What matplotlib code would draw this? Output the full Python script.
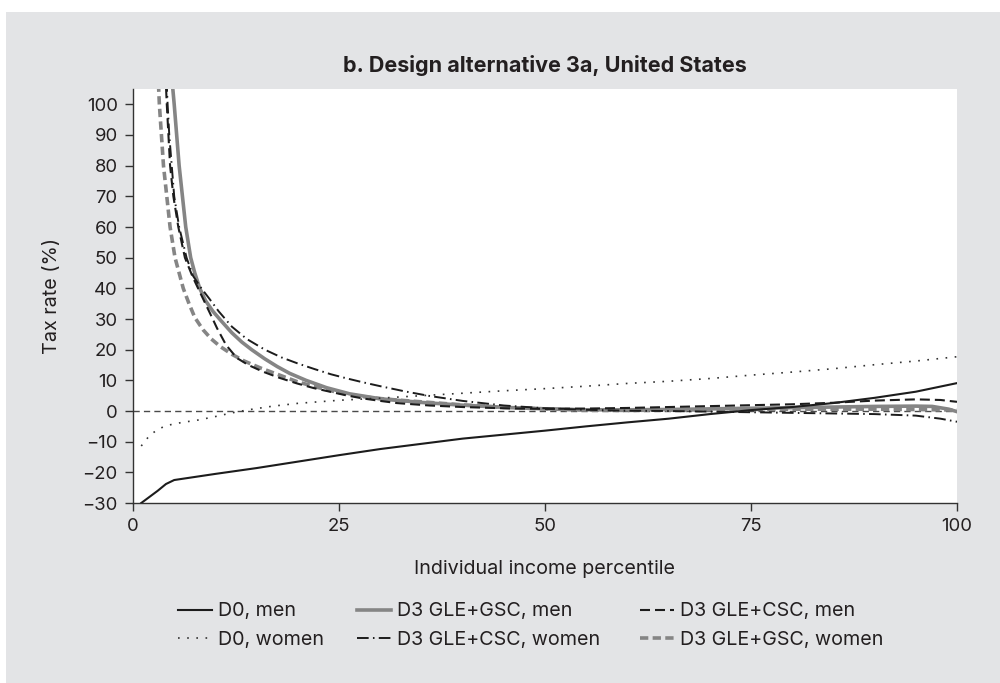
import matplotlib
matplotlib.use("Agg")
import matplotlib.pyplot as plt
from matplotlib.patches import Rectangle

plt.rcParams['font.family'] = ['Inter', 'DejaVu Sans']

# Individual income percentile vs. tax rate (%)
d0_men_x = [1, 2, 3, 4, 5, 6, 8, 10, 15, 20, 25, 30, 35, 40, 45, 50, 55, 60, 65, 70, 75, 80, 85, 90, 95, 100]
d0_men_y = [-30, -28, -26, -23.8, -22.5, -22.1, -21.3, -20.5, -18.6, -16.5, -14.4, -12.4, -10.7, -9.0,
            -7.7, -6.4, -5.0, -3.7, -2.5, -1.0, 0.3, 1.3, 2.6, 4.3, 6.3, 9.1]

d0_women_x = [1, 2, 3, 4, 5, 6, 8, 10, 12, 14, 17, 20, 25, 30, 35, 40, 45, 50, 55, 60, 65, 70, 75, 80, 85, 90, 95, 100]
d0_women_y = [-11.4, -8.0, -6.0, -4.8, -4.2, -3.7, -2.9, -1.8, -0.6, 0.4, 1.6, 2.5, 3.5, 4.2, 5.0, 5.8,
              6.6, 7.3, 8.1, 9.0, 9.7, 10.6, 11.7, 12.7, 13.8, 15.1, 16.3, 17.7]

gsc_men_x = [4.6, 4.8, 5.0, 5.3, 5.6, 6.0, 6.4, 7.0, 7.5, 8.1, 8.8, 9.7, 10.6, 12, 13.2, 14.4, 16, 17.5, 19,
             21, 23.5, 26.3, 30, 35, 40, 45, 50, 55, 60, 65, 70, 75, 80, 85, 90, 95, 97, 99, 100]
gsc_men_y = [115, 106, 100, 90, 80, 70, 60, 50, 45, 40, 36, 32.5, 29.7, 25.5, 22.5, 20, 17, 14.5, 12.3,
             10, 7.6, 5.6, 4.0, 2.8, 1.9, 1.2, 0.7, 0.4, 0.4, 0.5, 0.7, 0.9, 1.1, 1.3, 1.5, 1.6, 1.5, 0.6, -0.2]

gsc_women_x = [2.9, 3.1, 3.2, 3.45, 3.7, 4.1, 4.5, 5.1, 6.1, 6.8, 7.5, 8.5, 9.5, 10.6, 12, 13.5, 15.5, 17.5,
               20, 22, 24, 26.3, 29, 32, 36, 40, 45, 50, 55, 60, 65, 70, 75, 80, 85, 90, 95, 100]
gsc_women_y = [115, 106, 100, 90, 80, 70, 60, 50, 40, 35, 30.5, 26.5, 23.5, 21, 18.5, 16.3, 14, 12,
               9.5, 8.0, 6.6, 5.3, 4.3, 3.6, 2.8, 2.0, 1.2, 0.7, 0.3, 0.2, 0.3, 0.4, 0.5, 0.6, 0.6, 0.6, 0.5, 0.3]

csc_men_x = [3.8, 4.0, 4.1, 4.3, 4.5, 4.9, 5.5, 6.3, 7.2, 7.9, 8.7, 9.5, 10.2, 11.3, 12.6, 14, 15.8, 17.8,
             19.9, 21.9, 23.9, 25.9, 27.9, 30, 32, 36, 40, 45, 50, 55, 60, 65, 70, 75, 80, 85, 90, 95, 98, 100]
csc_men_y = [115, 106, 100, 90, 80, 70, 60, 50, 44, 40, 35.5, 31, 27, 21.5, 17.3, 15, 12.8, 10.8,
             9.0, 7.5, 6.3, 5.1, 4.1, 3.3, 2.6, 1.8, 1.3, 0.9, 0.7, 0.8, 1.0, 1.3, 1.6, 1.9, 2.2, 2.7, 3.4,
             3.8, 3.6, 3.0]

csc_women_x = [3.9, 4.1, 4.2, 4.4, 4.7, 5.0, 5.6, 6.5, 7.3, 8.3, 9.3, 10.4, 12, 13.8, 16, 18, 20, 22, 24, 26,
               28, 30, 33, 36, 40, 45, 50, 55, 60, 65, 70, 75, 80, 85, 90, 95, 98, 100]
csc_women_y = [115, 106, 100, 90, 80, 70, 60, 50, 44, 40, 36.5, 32.5, 27.5, 23.5, 20, 17.5, 15.5, 13.7,
               12, 10.6, 9.3, 8.1, 6.4, 4.9, 3.3, 1.8, 0.9, 0.4, 0.1, 0.0, -0.2, -0.4, -0.6, -0.8, -1.0,
               -1.5, -2.5, -3.5]

x_ticks = [0, 25, 50, 75, 100]
y_ticks = list(range(-30, 101, 10))

panel = '#e3e4e6'
black = '#1c1c1c'
gray = '#858585'
text_col = '#231f20'
fs_tick = 13.3
fs = 14.2

fig = plt.figure(figsize=(10, 6.83), dpi=100, facecolor='white')
fig.patches.append(Rectangle((0.006, 0.0), 0.994, 0.9824, transform=fig.transFigure,
                             facecolor=panel, edgecolor='none', zorder=-10))

ax = fig.add_axes([0.133, 0.2635, 0.824, 0.6062])
ax.set_facecolor('white')

ax.axhline(0, color='#4a4a4a', lw=1.0, linestyle=(0, (4.5, 3)), zorder=1)

l_d0m, = ax.plot(d0_men_x, d0_men_y, color=black, lw=1.5, label='D0, men', zorder=3)
l_d0w, = ax.plot(d0_women_x, d0_women_y, color='#333333', lw=1.2, linestyle=(0, (1, 4.5)),
                 label='D0, women', zorder=3)
l_gm, = ax.plot(gsc_men_x, gsc_men_y, color=gray, lw=2.6, label='D3 GLE+GSC, men', zorder=2)
l_gw, = ax.plot(gsc_women_x, gsc_women_y, color=gray, lw=2.6, linestyle=(0, (2.3, 1.2)),
                label='D3 GLE+GSC, women', zorder=2)
l_cm, = ax.plot(csc_men_x, csc_men_y, color=black, lw=1.5, linestyle=(0, (4.8, 2.4)),
                label='D3 GLE+CSC, men', zorder=3)
l_cw, = ax.plot(csc_women_x, csc_women_y, color=black, lw=1.4, linestyle=(0, (6, 2.2, 0.8, 2.2)),
                label='D3 GLE+CSC, women', zorder=3)

ax.set_xlim(0, 100)
ax.set_ylim(-30, 105)
ax.set_xticks(x_ticks)
ax.set_yticks(y_ticks)
ax.tick_params(direction='out', length=6, width=1.0, color='#333333', labelsize=fs_tick,
               labelcolor=text_col, pad=5)
for side in ('top', 'right'):
    ax.spines[side].set_visible(False)
for side in ('left', 'bottom'):
    ax.spines[side].set_color('#333333')
    ax.spines[side].set_linewidth(1.0)

ax.set_xlabel('Individual income percentile', fontsize=fs, color=text_col)
ax.xaxis.set_label_coords(0.5, -0.137)
ax.set_ylabel('Tax rate (%)', fontsize=fs, color=text_col)
ax.yaxis.set_label_coords(-0.087, 0.5)

ax.set_title('b. Design alternative 3a, United States', fontsize=15.5, fontweight='bold',
             color=text_col, pad=12)

# Three legend columns, each placed on its own
columns = [(0.178, [l_d0m, l_d0w]), (0.357, [l_gm, l_cw]), (0.640, [l_cm, l_gw])]
for x0, hs in columns:
    leg = fig.legend(handles=hs, labels=[h.get_label() for h in hs], loc='upper left',
                     bbox_to_anchor=(x0, 0.118), bbox_transform=fig.transFigure,
                     frameon=False, fontsize=fs, handlelength=1.7, handletextpad=0.33,
                     labelspacing=0.55, borderpad=0, borderaxespad=0)
    for t in leg.get_texts():
        t.set_color(text_col)

fig.savefig('out.png', dpi=100, facecolor='white')
